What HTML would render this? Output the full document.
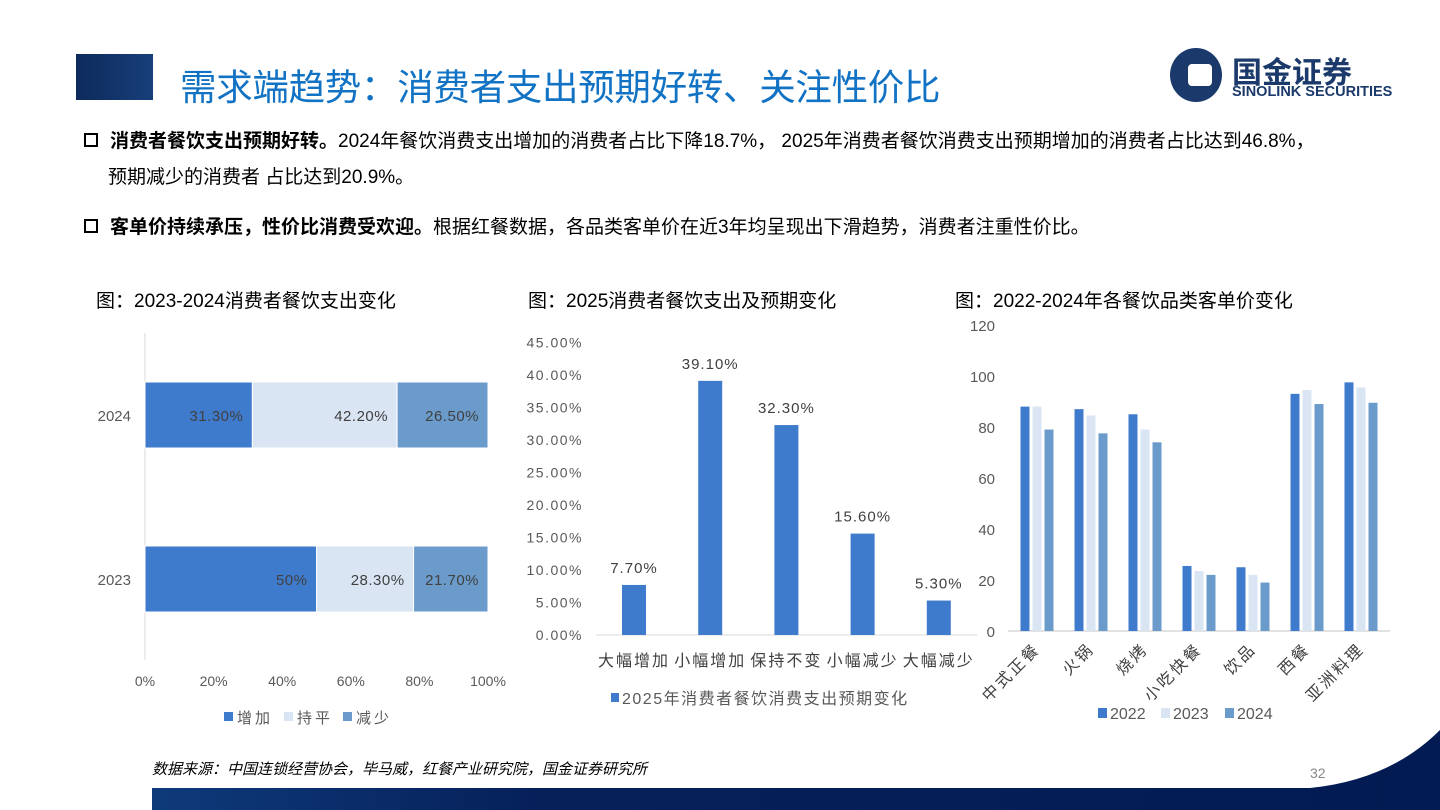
<!DOCTYPE html>
<html><head><meta charset="utf-8">
<style>
body{margin:0;width:1440px;height:810px;overflow:hidden;background:#fff;font-family:"Liberation Sans","Noto Sans CJK SC",sans-serif;position:relative}
.abs{position:absolute}
</style></head><body>
<div class="abs" style="left:76px;top:54px;width:77px;height:46px;background:linear-gradient(90deg,#0d2a5c,#183f7a)"></div>
<div class="abs" style="left:180px;top:58px;font-size:36.5px;color:#1273c4;letter-spacing:-0.3px">需求端趋势：消费者支出预期好转、关注性价比</div>
<div class="abs" style="left:1170px;top:48px;width:250px;height:56px">
 <div class="abs" style="left:0;top:0;width:52px;height:54px;border-radius:50%;background:#1b3a6b"></div>
 <div class="abs" style="left:18px;top:16px;width:24px;height:22px;background:#fff;border-radius:4px"></div>
 <div class="abs" style="left:62px;top:0px;font-size:30px;font-weight:bold;color:#1b3a6b">国金证券</div>
 <div class="abs" style="left:62px;top:36px;font-size:14.5px;font-weight:bold;color:#1b3a6b">SINOLINK SECURITIES</div>
</div>
<div class="abs" style="left:84px;top:124px;font-size:19px;color:#000;line-height:36px;width:1340px;white-space:nowrap">
 <span style="display:inline-block;width:10px;height:10px;border:2px solid #000;margin-right:12px"></span><b>消费者餐饮支出预期好转。</b>2024年餐饮消费支出增加的消费者占比下降18.7%， 2025年消费者餐饮消费支出预期增加的消费者占比达到46.8%，<br><span style="padding-left:24px">预期减少的消费者 占比达到20.9%。</span></div>
<div class="abs" style="left:84px;top:210px;font-size:19px;color:#000;line-height:36px;white-space:nowrap">
 <span style="display:inline-block;width:10px;height:10px;border:2px solid #000;margin-right:12px"></span><b>客单价持续承压，性价比消费受欢迎。</b>根据红餐数据，各品类客单价在近3年均呈现出下滑趋势，消费者注重性价比。</div>
<div class="abs" style="left:96px;top:286px;font-size:19px">图：2023-2024消费者餐饮支出变化</div>
<div class="abs" style="left:528px;top:286px;font-size:19px">图：2025消费者餐饮支出及预期变化</div>
<div class="abs" style="left:955px;top:286px;font-size:19px">图：2022-2024年各餐饮品类客单价变化</div>
<div class="abs" style="left:152px;top:758px;font-size:15px;font-style:italic">数据来源：中国连锁经营协会，毕马威，红餐产业研究院，国金证券研究所</div>
<div class="abs" style="left:1310px;top:765px;font-size:14px;color:#888">32</div>
<svg class="abs" style="left:0;top:0" width="1440" height="810">
 <defs><linearGradient id="fb" x1="0" x2="1"><stop offset="0" stop-color="#0e3a7a"/><stop offset="0.3" stop-color="#06205a"/><stop offset="1" stop-color="#021b52"/></linearGradient></defs>
 <path d="M152 788 L1310 788 Q1390 780 1440 730 L1440 810 L152 810 Z" fill="url(#fb)"/>
</svg>
<svg id="charts" class="abs" style="left:0;top:0" width="1440" height="810"></svg>
<script>
const c1Years=['2024','2023'];
const c1Inc=[31.3,50];
const c1Flat=[42.2,28.3];
const c1Dec=[26.5,21.7];
const c1IncLbl=['31.30%','50%'];
const c1FlatLbl=['42.20%','28.30%'];
const c1DecLbl=['26.50%','21.70%'];
const c1Ticks=[0,20,40,60,80,100];

const c2Cats=['大幅增加','小幅增加','保持不变','小幅减少','大幅减少'];
const c2Vals=[7.7,39.1,32.3,15.6,5.3];
const c2Lbl=['7.70%','39.10%','32.30%','15.60%','5.30%'];
const c2Ticks=[0,5,10,15,20,25,30,35,40,45];

const c3Cats=['中式正餐','火锅','烧烤','小吃快餐','饮品','西餐','亚洲料理'];
const c3S2022=[88,87,85,25.5,25,93,97.5];
const c3S2023=[88,84.5,79,23.5,22,94.5,95.5];
const c3S2024=[79,77.5,74,22,19,89,89.5];
const c3Ticks=[0,20,40,60,80,100,120];

const svg=document.getElementById('charts');
const NS='http://www.w3.org/2000/svg';
function mk(tag,attrs,parent,text){const e=document.createElementNS(NS,tag);for(const k in attrs)e.setAttribute(k,attrs[k]);if(text!=null)e.textContent=text;(parent||svg).appendChild(e);return e;}
const F='"Liberation Sans","Noto Sans CJK SC",sans-serif';
const C1='#3f7bcc',C2='#dae5f4',C3='#6b9bcb';

// chart 1
const x1=v=>145+v*3.43;
const y1c=[415,579];
let e=mk('line',{x1:145,y1:333,x2:145,y2:660,stroke:'#d9d9d9'});

c1Ticks.forEach(t=>{let tx=mk('text',{x:x1(t),y:686,'text-anchor':'middle','font-size':14,fill:'#595959','font-family':F},null,t+'%');
});
c1Years.forEach((yr,i)=>{
 const yc=y1c[i];
 let l=mk('text',{x:131,y:yc+6,'text-anchor':'end','font-size':15,fill:'#595959','font-family':F},null,yr);
 
 let s=0;
 [[c1Inc,C1,c1IncLbl,'increase'],[c1Flat,C2,c1FlatLbl,'flat'],[c1Dec,C3,c1DecLbl,'decrease']].forEach(([arr,col,lb,nm])=>{
  const v=arr[i];
  let r=mk('rect',{x:x1(s),y:yc-33,width:x1(s+v)-x1(s),height:66,fill:col,stroke:'#fff','stroke-width':1});
  
  let t=mk('text',{x:x1(s+v)-9,y:yc+6,'text-anchor':'end','font-size':15,fill:'#404040','font-family':F,'letter-spacing':0.5},null,lb[i]);
  
  s+=v;
 });
});
[['增加',C1,224],['持平',C2,284],['减少',C3,343]].forEach(([n,c,x])=>{
 let r=mk('rect',{x:x,y:712,width:9,height:9,fill:c});
 let t=mk('text',{x:x+13,y:723,'font-size':15,fill:'#595959','font-family':F,'letter-spacing':3},null,n);
});

// chart 2
const y2=v=>635-v*6.5;
const x2=i=>634+i*76.2;
e=mk('line',{x1:596,y1:635,x2:977,y2:635,stroke:'#d9d9d9'});

c2Ticks.forEach(t=>{let tx=mk('text',{x:583,y:y2(t)+5,'text-anchor':'end','font-size':14,fill:'#595959','font-family':F,'letter-spacing':1.5},null,t.toFixed(2)+'%');
});
c2Cats.forEach((c,i)=>{
 let r=mk('rect',{x:x2(i)-12,y:y2(c2Vals[i]),width:24,height:635-y2(c2Vals[i]),fill:C1});
 
 let t=mk('text',{x:x2(i),y:y2(c2Vals[i])-12,'text-anchor':'middle','font-size':15,fill:'#404040','font-family':F,'letter-spacing':1},null,c2Lbl[i]);
 
 let l=mk('text',{x:x2(i),y:666,'text-anchor':'middle','font-size':16,fill:'#404040','font-family':F,'letter-spacing':2},null,c);
 
});
e=mk('rect',{x:611,y:693,width:8,height:9,fill:C1});
e=mk('text',{x:622,y:704,'font-size':16,fill:'#595959','font-family':F,'letter-spacing':1.5},null,'2025年消费者餐饮消费支出预期变化');

// chart 3
const y3=v=>631-v*2.55;
const x3=i=>1037+i*54;
e=mk('line',{x1:1008,y1:631,x2:1390,y2:631,stroke:'#d9d9d9','stroke-width':1.5});

c3Ticks.forEach(t=>{let tx=mk('text',{x:995,y:y3(t)+6,'text-anchor':'end','font-size':15,fill:'#595959','font-family':F},null,t);
});
c3Cats.forEach((c,i)=>{
 [[c3S2022,C1,-12,'2022'],[c3S2023,C2,0,'2023'],[c3S2024,C3,12,'2024']].forEach(([arr,col,off,nm])=>{
  let r=mk('rect',{x:x3(i)+off-4.5,y:y3(arr[i]),width:9,height:631-y3(arr[i]),fill:col});
  
 });
 let l=mk('text',{x:x3(i)+4,y:650,'text-anchor':'end','font-size':16,fill:'#404040','font-family':F,'letter-spacing':2.5,transform:'rotate(-45 '+(x3(i)+4)+' 650)'},null,c);
 
});
[['2022',C1,1098],['2023',C2,1161],['2024',C3,1225]].forEach(([n,c,x])=>{
 let r=mk('rect',{x:x,y:708,width:9,height:10,fill:c});
 let t=mk('text',{x:x+12,y:719,'font-size':16,fill:'#595959','font-family':F},null,n);
});
</script>
</body></html>
